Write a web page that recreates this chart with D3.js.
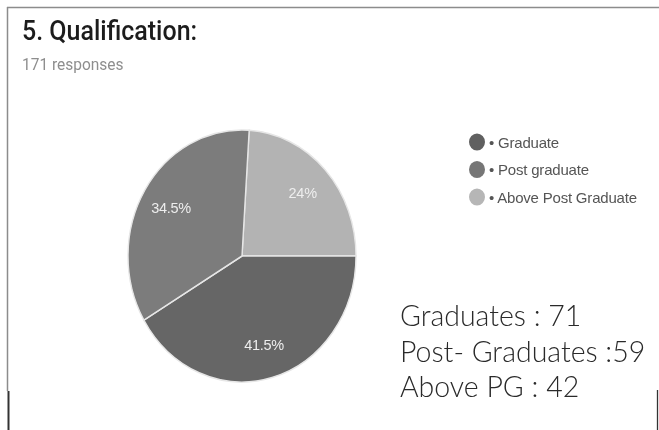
<!DOCTYPE html>
<html>
<head>
<meta charset="utf-8">
<script src="https://cdn.jsdelivr.net/npm/d3@7"></script>
<style>
  html, body { margin: 0; padding: 0; background: #fff; }
  svg { display: block; }
</style>
</head>
<body>
<svg id="chart" width="659" height="430"></svg>
<script>
// Survey question 5: qualification of the 171 respondents
const categories = ["Graduate", "Post graduate", "Above Post Graduate"];
const percents = [41.5, 34.5, 24];
const counts = [71, 59, 42];
const countLabels = ["Graduates : ", "Post- Graduates :", "Above PG : "];
const sliceColors = ["#666666", "#7b7b7b", "#b3b3b3"];
const legendColors = ["#606060", "#767676", "#b6b6b6"];
// slices are laid out clockwise starting with the smallest group
const sliceOrder = [2, 0, 1];

const svg = d3.select("#chart");

// soft focus for the screenshot-like part of the figure
const defs = svg.append("defs");
defs.append("filter").attr("id", "soft")
  .attr("x", "-5%").attr("y", "-5%").attr("width", "110%").attr("height", "110%")
  .append("feGaussianBlur").attr("stdDeviation", 0.55);

// frame lines
const frame = svg.append("g");
frame.append("line").attr("x1", 7).attr("x2", 659).attr("y1", 7.5).attr("y2", 7.5)
  .attr("stroke", "#8c8c8c").attr("stroke-width", 1.5);
frame.append("line").attr("x1", 7.5).attr("x2", 7.5).attr("y1", 7).attr("y2", 391)
  .attr("stroke", "#8c8c8c").attr("stroke-width", 1.5);
frame.append("line").attr("x1", 8.5).attr("x2", 8.5).attr("y1", 391).attr("y2", 430)
  .attr("stroke", "#333").attr("stroke-width", 2);
frame.append("line").attr("x1", 657.5).attr("x2", 657.5).attr("y1", 390).attr("y2", 430)
  .attr("stroke", "#333").attr("stroke-width", 1.3);

const card = svg.append("g").attr("filter", "url(#soft)");

// heading
card.append("text")
  .attr("transform", "translate(22,40) scale(1,1.1)")
  .attr("font-family", "Roboto, sans-serif")
  .attr("font-weight", 500)
  .attr("font-size", 25)
  .attr("fill", "#1e1e1e")
  .text("5. Qualification:");

card.append("text")
  .attr("transform", "translate(22,70) scale(1,1.1)")
  .attr("font-family", "Roboto, sans-serif")
  .attr("font-size", 15.5)
  .attr("fill", "#8e8e8e")
  .text("171 responses");

// pie (slightly taller than wide)
const cx = 242, cy = 256, R = 114, sy = 126 / 114;
const start = 0.063;
const pie = d3.pie().sort(null).value(i => percents[i])
  .startAngle(start).endAngle(start + 2 * Math.PI);
const arcs = pie(sliceOrder);
const arc = d3.arc().innerRadius(0).outerRadius(R);
const labelArc = d3.arc().innerRadius(R * 0.73).outerRadius(R * 0.73);

const pg = card.append("g").attr("transform", `translate(${cx},${cy}) scale(1,${sy})`);
pg.selectAll("path").data(arcs).join("path")
  .attr("d", arc)
  .attr("fill", d => sliceColors[d.data])
  .attr("stroke", "#e6e6e6")
  .attr("stroke-width", 1.4);

card.append("g").selectAll("text").data(arcs).join("text")
  .attr("x", d => cx + labelArc.centroid(d)[0])
  .attr("y", d => cy + labelArc.centroid(d)[1] * sy)
  .attr("text-anchor", "middle")
  .attr("dominant-baseline", "central")
  .attr("font-family", "'Liberation Sans', Arial, sans-serif")
  .attr("font-size", 14.5)
  .attr("letter-spacing", -0.3)
  .attr("fill", "#eeeeee")
  .text(d => percents[d.data] + "%");

// legend
const legend = card.append("g").attr("transform", "translate(477,142)");
const rows = legend.selectAll("g").data(categories).join("g")
  .attr("transform", (d, i) => `translate(0,${i * 27.5})`);
rows.append("ellipse").attr("rx", 8).attr("ry", 8.6)
  .attr("fill", (d, i) => legendColors[i]);
rows.append("text")
  .attr("x", 12).attr("y", 5.5)
  .attr("font-family", "'Liberation Sans', Arial, sans-serif")
  .attr("font-size", 15)
  .attr("letter-spacing", -0.2)
  .attr("fill", "#555")
  .text(d => "\u2022 " + d);

// response counts
svg.append("g").selectAll("text").data(counts).join("text")
  .attr("x", 400)
  .attr("y", (d, i) => 326 + i * 35.5)
  .attr("font-family", "Lato, 'Open Sans', sans-serif")
  .attr("font-weight", 300)
  .attr("font-size", 28.5)
  .attr("fill", "#2a2a2a")
  .text((d, i) => countLabels[i] + d);
</script>
</body>
</html>
